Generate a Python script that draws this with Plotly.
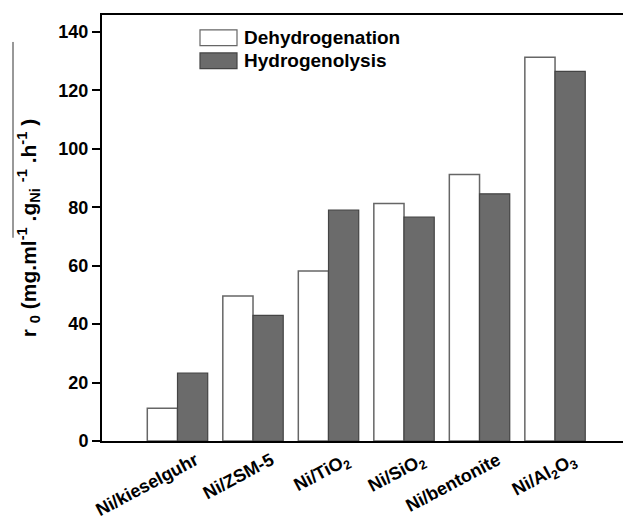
import plotly.graph_objects as go

categories = ["Ni/kieselguhr", "Ni/ZSM-5", "Ni/TiO<sub>2</sub>", "Ni/SiO<sub>2</sub>",
              "Ni/bentonite", "Ni/Al<sub>2</sub>O<sub>3</sub>"]
dehydrogenation = [11.2, 49.6, 58.2, 81.3, 91.2, 131.3]
hydrogenolysis = [23.2, 43.0, 79.0, 76.6, 84.6, 126.5]
series_names = ["Dehydrogenation", "Hydrogenolysis"]
y_ticks = [0, 20, 40, 60, 80, 100, 120, 140]

FONT = "Liberation Sans, Arial, sans-serif"
GRAY = "#6b6b6b"
x_idx = list(range(len(categories)))

fig = go.Figure()
fig.add_trace(go.Bar(x=x_idx, y=dehydrogenation, name=series_names[0],
                     marker=dict(color="white", line=dict(color="#666666", width=1.5)),
                     showlegend=False))
fig.add_trace(go.Bar(x=x_idx, y=hydrogenolysis, name=series_names[1],
                     marker=dict(color=GRAY, line=dict(color="#444444", width=1.2)),
                     showlegend=False))

# legend drawn manually (wide patches as in reference)
legend_rows = [(series_names[0], "white", "#666666", 0.928, 0.965),
               (series_names[1], GRAY, "#444444", 0.874, 0.911)]
for name, fc, lc, y0, y1 in legend_rows:
    fig.add_shape(type="rect", xref="paper", yref="paper",
                  x0=(200 - 102) / 521, x1=(237 - 102) / 521, y0=y0, y1=y1,
                  fillcolor=fc, line=dict(color=lc, width=1.2))
    fig.add_annotation(xref="paper", yref="paper", x=(242 - 102) / 521, y=(y0 + y1) / 2,
                       text="<b>" + name + "</b>", showarrow=False, xanchor="left",
                       yanchor="middle", font=dict(family=FONT, size=19, color="black"))

# stray overline from the original scan of the axis title
fig.add_shape(type="line", xref="paper", yref="paper",
              x0=-89 / 521, x1=-89 / 521, y0=(441.5 - 42) / 426.5, y1=(441.5 - 238) / 426.5,
              line=dict(color="#333333", width=1))

fig.update_layout(
    width=623, height=520,
    margin=dict(l=102, r=0, t=15, b=78.5),
    plot_bgcolor="white", paper_bgcolor="white",
    barmode="group", bargap=0.2, bargroupgap=0,
    font=dict(family=FONT, color="black"),
    xaxis=dict(
        range=[-1.0, 5.9], tickmode="array", tickvals=x_idx,
        ticktext=["<b>" + c + "</b>" for c in categories],
        tickangle=-28, ticks="", showline=True, linecolor="black", linewidth=2,
        mirror=True, showgrid=False, zeroline=False, ticklabelshift=18,
        tickfont=dict(family=FONT, size=18, color="black"), automargin=False,
    ),
    yaxis=dict(
        range=[0, 145.8], tickmode="array", tickvals=y_ticks,
        ticktext=["<b>%d</b>" % v for v in y_ticks],
        ticks="outside", ticklen=8, tickwidth=2, tickcolor="black",
        showline=True, linecolor="black", linewidth=2, showgrid=False, zeroline=False,
        tickfont=dict(family=FONT, size=18, color="black"), automargin=False,
        title=dict(text="<b>r <sub>0</sub> (mg.ml<sup>-1</sup> .g<sub>Ni</sub> <sup>-1</sup> .h<sup>-1</sup> )</b>",
                   font=dict(family=FONT, size=21, color="black"), standoff=16),
    ),
)

fig.write_html("out.html")
